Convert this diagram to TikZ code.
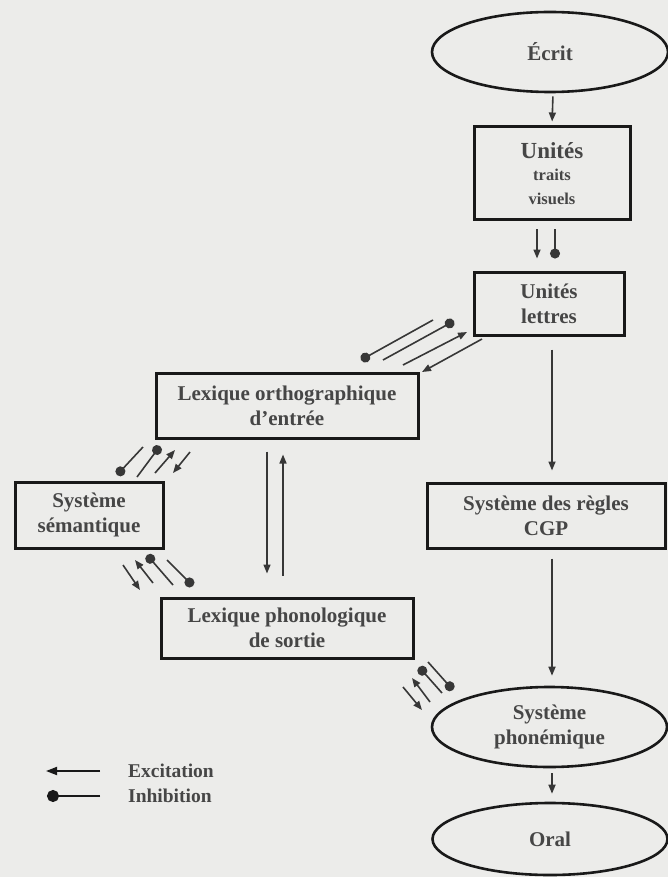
\documentclass[tikz,border=0pt]{standalone}
\usepackage{fontspec}
\setmainfont{Liberation Serif}
\usetikzlibrary{arrows.meta,shapes.geometric}
\definecolor{bg}{RGB}{236,236,234}
\definecolor{ink}{RGB}{25,25,25}
\definecolor{arr}{RGB}{55,55,55}
\definecolor{txt}{RGB}{70,70,70}
\begin{document}
\begin{tikzpicture}[x=1pt,y=-1pt,
  box/.style={draw=ink, line width=3pt, inner sep=0pt, align=center, text=txt,
    font=\bfseries\fontsize{21}{25}\selectfont},
  ell/.style={ellipse, draw=ink, line width=2.6pt, inner sep=0pt, align=center, text=txt,
    font=\bfseries\fontsize{21}{25}\selectfont},
  exc/.style={draw=arr, line width=1.6pt, -{Triangle[length=9pt,width=7pt]}},
  inh/.style={draw=arr, line width=1.6pt, -{Circle[length=10pt]}},
  lbl/.style={text=txt, anchor=west, inner sep=0pt, font=\bfseries\fontsize{19.5}{22}\selectfont}
]
\fill[bg] (0,0) rectangle (668,877);
\useasboundingbox (0,0) rectangle (668,877);

% nodes
\node[ell, minimum width=236pt, minimum height=80pt] (ecrit) at (550,52) {Écrit};
\node[box, minimum width=156pt, minimum height=93pt] (traits) at (552,173.5)
  {\fontsize{23}{23}\selectfont Unités\\[-3pt]\fontsize{16.5}{22}\selectfont traits\\[-1pt]\fontsize{16.5}{22}\selectfont visuels};
\node[box, minimum width=150pt, minimum height=63pt] (lettres) at (549,303.5) {Unités\\lettres};
\node[box, minimum width=262pt, minimum height=65pt] (ortho) at (287,405.5) {Lexique orthographique\\d'entrée};
\node[box, minimum width=148pt, minimum height=66pt] (sem) at (89,515) {Système\\sémantique};
\node[box, minimum width=238pt, minimum height=65pt] (cgp) at (546,515.5) {Système des règles\\CGP};
\node[box, minimum width=252pt, minimum height=60pt] (phono) at (287,628) {Lexique phonologique\\de sortie};
\node[ell, minimum width=235pt, minimum height=80pt] (phon) at (549.5,727) {Système\\phonémique};
\node[ell, minimum width=235pt, minimum height=72pt] (oral) at (550,839) {Oral};

% vertical connectors
\draw[exc, shorten <=3pt, shorten >=4pt] ([xshift=3pt]ecrit.south) -- (traits.north);
\draw[exc, shorten <=8pt, shorten >=12pt] ([xshift=-15pt]traits.south) -- ([xshift=-12pt]lettres.north);
\draw[inh, shorten <=8pt, shorten >=12pt] ([xshift=3pt]traits.south) -- ([xshift=6pt]lettres.north);
\draw[exc, shorten <=13pt, shorten >=11pt] ([xshift=3pt]lettres.south) -- ([xshift=6pt]cgp.north);
\draw[exc, shorten <=9pt, shorten >=10pt] ([xshift=6pt]cgp.south) -- ([xshift=2.5pt]phon.north);
\draw[exc, shorten <=5pt, shorten >=8pt] ([xshift=2.5pt]phon.south) -- ([xshift=2pt]oral.north);
\draw[exc, shorten <=12pt, shorten >=23pt] ([xshift=-20pt]ortho.south) -- ([xshift=-20pt]phono.north);
\draw[exc, shorten <=21pt, shorten >=15pt] ([xshift=-4pt]phono.north) -- ([xshift=-4pt]ortho.south);

% lettres <-> ortho
\coordinate (a1s) at (433,320); \coordinate (a1e) at (361,360);
\coordinate (a2s) at (383,360); \coordinate (a2e) at (454,321);
\coordinate (a3s) at (403,365); \coordinate (a3e) at (467,332);
\coordinate (a4s) at (482,339); \coordinate (a4e) at (422,372);
\draw[inh] (a1s) -- (a1e);
\draw[inh] (a2s) -- (a2e);
\draw[exc] (a3s) -- (a3e);
\draw[exc] (a4s) -- (a4e);

% ortho <-> semantique
\coordinate (b1s) at (143,447); \coordinate (b1e) at (117,475);
\coordinate (b2s) at (137,477); \coordinate (b2e) at (160,446);
\coordinate (b3s) at (155,473); \coordinate (b3e) at (175,450);
\coordinate (b4s) at (190,452); \coordinate (b4e) at (173,473);
\draw[inh] (b1s) -- (b1e);
\draw[inh] (b2s) -- (b2e);
\draw[exc] (b3s) -- (b3e);
\draw[exc] (b4s) -- (b4e);

% semantique <-> phono
\coordinate (c1s) at (123,565); \coordinate (c1e) at (140,590);
\coordinate (c2s) at (153,583); \coordinate (c2e) at (135,560);
\coordinate (c3s) at (173,585); \coordinate (c3e) at (147,555);
\coordinate (c4s) at (167,560); \coordinate (c4e) at (193,586);
\draw[exc] (c1s) -- (c1e);
\draw[exc] (c2s) -- (c2e);
\draw[inh] (c3s) -- (c3e);
\draw[inh] (c4s) -- (c4e);

% phono <-> phonemique
\coordinate (d1s) at (403,687); \coordinate (d1e) at (422,710);
\coordinate (d2s) at (430,702); \coordinate (d2e) at (412,678);
\coordinate (d3s) at (442,693); \coordinate (d3e) at (419,667);
\coordinate (d4s) at (428,662); \coordinate (d4e) at (453,690);
\draw[exc] (d1s) -- (d1e);
\draw[exc] (d2s) -- (d2e);
\draw[inh] (d3s) -- (d3e);
\draw[inh] (d4s) -- (d4e);

% legend
\node[lbl] (lexc) at (128,771) {Excitation};
\node[lbl] (linh) at (128,796) {Inhibition};
\coordinate (lx1) at (100,771); \coordinate (lx2) at (46,771);
\coordinate (li1) at (100,796); \coordinate (li2) at (47,796);
\draw[draw=ink, line width=1.8pt, -{Triangle[length=11pt,width=8pt]}] (lx1) -- (lx2);
\draw[draw=ink, line width=1.8pt, -{Circle[length=12pt]}] (li1) -- (li2);
\end{tikzpicture}
\end{document}
